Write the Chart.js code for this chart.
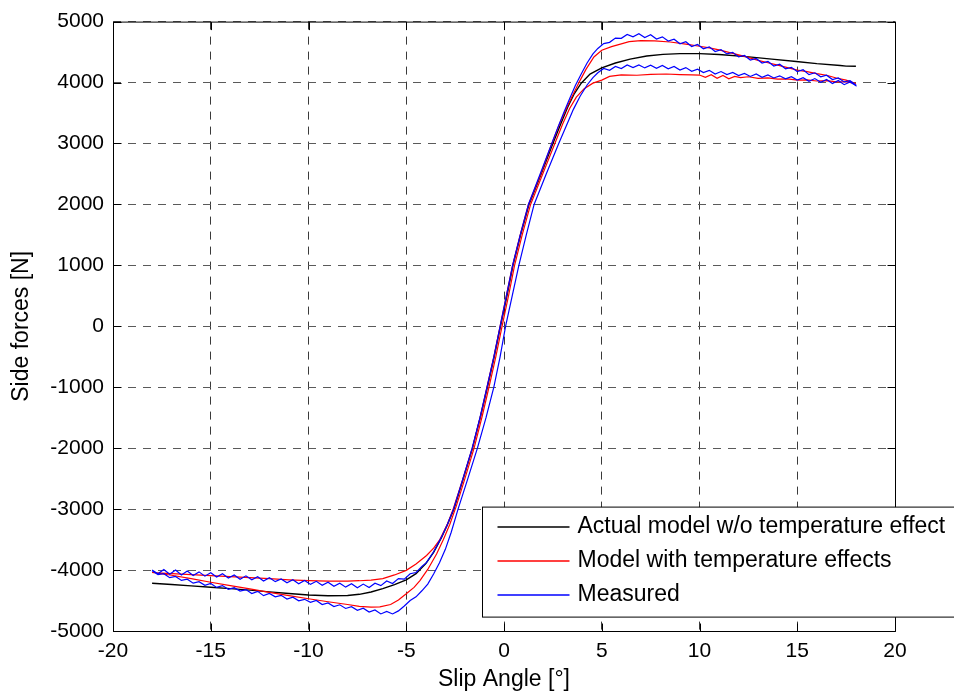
<!DOCTYPE html>
<html>
<head>
<meta charset="utf-8">
<script src="https://cdn.jsdelivr.net/npm/chart.js@4.4.1/dist/chart.umd.min.js"></script>
<style>
html,body{margin:0;padding:0;background:#fff;}
canvas{display:block;}
</style>
</head>
<body>
<canvas id="chart" width="954" height="697"></canvas>
<script>
// ---------- labels ----------
const seriesNames = ['Actual model w/o temperature effect', 'Model with temperature effects', 'Measured'];
const seriesColors = ['#000000', '#ff0000', '#0000ff'];
const xTickValues = [-20, -15, -10, -5, 0, 5, 10, 15, 20];
const yTickValues = [-5000, -4000, -3000, -2000, -1000, 0, 1000, 2000, 3000, 4000, 5000];
const xAxisTitle = 'Slip Angle [°]';
const yAxisTitle = 'Side forces [N]';

// ---------- Actual model w/o temperature effect ----------
const actualX = [-18,-17,-16,-15,-14,-13,-12,-11,-10,-9,-8,-7.4,-6.8,-6.2,-5.6,-5,-4.5,-4,-3.6,-3.2,
  -2.9,-2.56,-2.1,-1.61,-1.2,-0.85,-0.5,-0.18,0.15,0.46,0.85,1.28,1.9,2.5,2.9,3.25,3.6,3.95,4.4,5,
  5.7,6.45,7.3,8.13,9,10,11,12.4,13.7,14.95,16,17.2,17.5,18];
const actualY = [-4217,-4238,-4260,-4282,-4305,-4330,-4358,-4385,-4410,-4422,-4418,-4398,-4360,-4305,-4240,-4160,-4060,-3895,-3710,-3470,
  -3260,-3000,-2520,-2000,-1480,-1000,-500,0,500,1000,1500,2000,2500,3000,3320,3590,3820,3990,4140,4240,
  4320,4385,4435,4462,4475,4475,4460,4425,4385,4345,4310,4280,4270,4268];

// ---------- Model with temperature effects (rising sweep, then falling sweep) ----------
const modelRiseX = [-18,-17,-16,-15,-14,-13,-12,-11,-10,-9,-8,-7.4,-6.8,-6.35,-5.8,-5.4,-5,-4.6,-4.3,-3.9,
  -3.45,-3.1,-2.77,-2.45,-2.02,-1.53,-1.12,-0.77,-0.42,-0.1,0.23,0.54,0.93,1.36,1.98,2.6,3,3.35,3.7,4.1,
  4.55,5,5.4,6,6.8,7.5,8.3,9,9.6,10,10.3,10.6,10.9,11.2,11.5,11.8,12.1,12.5,13,13.5,
  14,14.5,15,15.5,16,16.5,17,17.5,18];
const modelRiseY = [-4040,-4085,-4140,-4200,-4255,-4310,-4365,-4420,-4471,-4520,-4565,-4597,-4608,-4605,-4565,-4490,-4390,-4285,-4173,-3990,
  -3737,-3500,-3248,-2960,-2520,-2000,-1480,-1000,-500,0,500,1000,1500,2000,2500,3000,3320,3570,3760,3900,
  3990,4040,4100,4125,4120,4135,4140,4130,4125,4123,4085,4130,4070,4115,4060,4100,4080,4095,4070,4075,
  4055,4060,4040,4045,4025,4030,4010,4010,3985];
const modelFallX = [18,17.5,17,16.5,16,15.5,15,14.5,14,13.5,13,12.4,12,11.5,11,10.5,10,9.3,8.5,7.7,
  7,6.4,6,5.5,5,4.6,4.2,3.9,3.6,3.25,2.85,2.4,1.88,1.25,0.83,0.44,0.12,-0.2,-0.52,-0.87,
  -1.22,-1.62,-2.12,-2.6,-2.9,-3.28,-3.6,-3.96,-4.5,-5,-5.6,-6.2,-6.8,-7.4,-8,-9,-10,-11,-12,-13,
  -14,-15,-16,-17,-18];
const modelFallY = [3985,4040,4075,4120,4145,4180,4205,4245,4285,4325,4365,4420,4455,4495,4535,4570,4595,4630,4665,4685,
  4688,4670,4635,4590,4530,4420,4220,4040,3850,3620,3330,2960,2500,2000,1500,1000,500,0,-500,-1000,
  -1500,-2000,-2520,-3000,-3250,-3500,-3640,-3760,-3900,-4005,-4080,-4140,-4165,-4175,-4180,-4182,-4173,-4160,-4142,-4125,
  -4107,-4091,-4075,-4057,-4040];

// ---------- Measured (rising sweep, then falling sweep) ----------
const measuredRiseX = [-18,-17.7,-17.4,-17.1,-16.8,-16.5,-16.2,-15.9,-15.6,-15.3,
  -15,-14.7,-14.4,-14.1,-13.8,-13.5,-13.2,-12.9,-12.6,-12.3,
  -12,-11.7,-11.4,-11.1,-10.8,-10.5,-10.2,-9.9,-9.6,-9.3,
  -9,-8.7,-8.4,-8.1,-7.8,-7.5,-7.2,-6.9,-6.6,-6.3,
  -6,-5.7,-5.4,-5.1,-4.8,-4.5,-4.2,-3.9,-3.6,-3.3,-3,-2.7,
  -2.35,-1.85,-1.36,-0.92,-0.52,-0.2,0.08,0.42,0.76,1.14,1.54,2.16,2.8,3.2,3.55,3.9,4.25,4.55,
  4.8,5.1,5.4,5.7,6,6.3,6.6,6.9,7.2,7.5,
  7.8,8.1,8.4,8.7,9,9.3,9.6,9.9,10.2,10.5,
  10.8,11.1,11.4,11.7,12,12.3,12.6,12.9,13.2,13.5,
  13.8,14.1,14.4,14.7,15,15.3,15.6,15.9,16.2,16.5,
  16.8,17.1,17.4,17.7,18];
const measuredRiseY = [-4010,-4075,-4060,-4125,-4105,-4170,-4150,-4215,-4190,-4250,
  -4220,-4285,-4255,-4315,-4290,-4345,-4320,-4385,-4350,-4420,
  -4385,-4440,-4415,-4475,-4445,-4505,-4480,-4530,-4500,-4565,
  -4540,-4600,-4570,-4630,-4600,-4660,-4625,-4690,-4655,-4720,
  -4680,-4720,-4670,-4590,-4500,-4440,-4340,-4230,-4064,-3880,-3660,-3380,
  -3000,-2500,-2000,-1500,-1000,-500,0,500,1000,1500,2000,2500,3000,3300,3560,3780,3960,4080,
  4160,4230,4200,4265,4230,4290,4245,4290,4240,4285,
  4235,4280,4225,4265,4205,4245,4185,4220,4165,4200,
  4140,4180,4130,4165,4115,4150,4100,4140,4085,4125,
  4075,4110,4060,4095,4040,4080,4020,4065,4005,4050,
  3985,4035,3965,4010,3950];
const measuredFallX = [18,17.7,17.4,17.1,16.8,16.5,16.2,15.9,15.6,15.3,
  15,14.7,14.4,14.1,13.8,13.5,13.2,12.9,12.6,12.3,
  12,11.7,11.4,11.1,10.8,10.5,10.2,9.9,9.6,9.3,
  9,8.7,8.4,8.1,7.8,7.5,7.2,6.9,6.6,6.3,
  6,5.7,5.4,5.1,4.8,4.55,4.25,3.95,3.65,3.35,3.05,2.75,2.42,
  1.85,1.25,0.83,0.44,0.12,-0.2,-0.52,-0.87,-1.23,-1.63,-2.12,-2.58,-2.92,-3.2,-3.6,-3.96,
  -4.2,-4.5,-4.8,-5.1,-5.4,-5.7,-6,-6.3,-6.6,-6.9,
  -7.2,-7.5,-7.8,-8.1,-8.4,-8.7,-9,-9.3,-9.6,-9.9,
  -10.2,-10.5,-10.8,-11.1,-11.4,-11.7,-12,-12.3,-12.6,-12.9,
  -13.2,-13.5,-13.8,-14.1,-14.4,-14.7,-15,-15.3,-15.6,-15.9,
  -16.2,-16.5,-16.8,-17.1,-17.4,-17.7,-18];
const measuredFallY = [3960,4030,4010,4075,4050,4120,4095,4160,4130,4210,
  4180,4250,4225,4300,4270,4345,4320,4395,4370,4445,
  4420,4495,4470,4540,4510,4585,4555,4625,4590,4670,
  4635,4710,4680,4750,4715,4785,4740,4800,4750,4790,
  4725,4730,4660,4640,4560,4470,4320,4140,3950,3730,3500,3260,2980,
  2500,2000,1500,1000,500,0,-500,-1000,-1500,-2000,-2520,-3000,-3270,-3460,-3700,-3874,
  -3940,-4040,-4060,-4150,-4140,-4220,-4180,-4255,-4215,-4285,
  -4230,-4290,-4225,-4280,-4215,-4265,-4200,-4250,-4185,-4235,
  -4170,-4225,-4160,-4210,-4145,-4190,-4125,-4180,-4110,-4160,
  -4095,-4150,-4080,-4130,-4060,-4115,-4045,-4100,-4030,-4090,
  -4015,-4080,-4000,-4070,-3990,-4060,-4000];

function toPoints(xs, ys) { return xs.map((x, i) => ({ x: x, y: ys[i] })); }

const FONT = "'Liberation Sans', Arial, Helvetica, sans-serif";

// Axis box and inward tick marks (MATLAB style)
const framePlugin = {
  id: 'frame',
  afterDatasetsDraw(chart) {
    const { ctx, chartArea: a, scales } = chart;
    const L = a.left + 0.5, R = a.right + 0.5, T = a.top + 0.5, B = a.bottom + 0.5;
    const len = 8;
    ctx.save();
    ctx.strokeStyle = '#000';
    ctx.lineWidth = 1;
    ctx.setLineDash([]);
    ctx.beginPath();
    ctx.rect(L, T, R - L, B - T);
    xTickValues.forEach(v => {
      const p = Math.round(scales.x.getPixelForValue(v)) + 0.5;
      ctx.moveTo(p, B); ctx.lineTo(p, B - len);
      ctx.moveTo(p, T); ctx.lineTo(p, T + len);
    });
    yTickValues.forEach(v => {
      const p = Math.round(scales.y.getPixelForValue(v)) + 0.5;
      ctx.moveTo(L, p); ctx.lineTo(L + len, p);
      ctx.moveTo(R, p); ctx.lineTo(R - len, p);
    });
    ctx.stroke();
    ctx.restore();
  }
};

// Boxed legend at lower right (extends past plot as in the reference)
const boxLegendPlugin = {
  id: 'boxLegend',
  afterDraw(chart) {
    const { ctx, chartArea: a } = chart;
    const bx = a.left + 369.5, by = a.top + 485.5, bw = 520, bh = 110;
    ctx.save();
    ctx.setLineDash([]);
    ctx.fillStyle = '#ffffff';
    ctx.fillRect(bx, by, bw, bh);
    ctx.strokeStyle = '#000000';
    ctx.lineWidth = 1;
    ctx.strokeRect(bx, by, bw, bh);
    ctx.font = '23px ' + FONT;
    ctx.textBaseline = 'middle';
    ctx.textAlign = 'left';
    seriesNames.forEach((name, i) => {
      const y = Math.round(by + 20 + i * 33.7);
      ctx.beginPath();
      ctx.strokeStyle = seriesColors[i];
      ctx.lineWidth = 1.6;
      ctx.moveTo(bx + 15, y);
      ctx.lineTo(bx + 87, y);
      ctx.stroke();
      ctx.fillStyle = '#000000';
      ctx.fillText(chart.data.datasets[i].label, bx + 95, y);
    });
    ctx.restore();
  }
};

new Chart(document.getElementById('chart'), {
  type: 'scatter',
  data: {
    datasets: [
      { label: seriesNames[0], data: toPoints(actualX, actualY), borderColor: seriesColors[0], backgroundColor: seriesColors[0],
        showLine: true, borderWidth: 1.4, pointRadius: 0, order: 3 },
      { label: seriesNames[1], data: toPoints(modelRiseX.concat(modelFallX), modelRiseY.concat(modelFallY)),
        borderColor: seriesColors[1], backgroundColor: seriesColors[1], showLine: true, borderWidth: 1.2, pointRadius: 0, order: 2 },
      { label: seriesNames[2], data: toPoints(measuredRiseX.concat(measuredFallX), measuredRiseY.concat(measuredFallY)),
        borderColor: seriesColors[2], backgroundColor: seriesColors[2], showLine: true, borderWidth: 1.2, pointRadius: 0, order: 1 }
    ]
  },
  options: {
    responsive: false,
    animation: false,
    devicePixelRatio: 1,
    layout: { padding: { top: 18, right: 59, left: 0, bottom: 0 } },
    plugins: { legend: { display: false }, tooltip: { enabled: false } },
    elements: { line: { tension: 0 }, point: { radius: 0 } },
    scales: {
      x: {
        type: 'linear', min: -20, max: 20,
        afterBuildTicks: s => { s.ticks = xTickValues.map(v => ({ value: v })); },
        afterFit: s => { s.height = 66; },
        grid: { color: '#3a3a3a', lineWidth: 1, drawTicks: false },
        border: { display: false, dash: [8, 7] },
        ticks: { padding: 8, color: '#000', font: { family: FONT, size: 21 }, maxRotation: 0, autoSkip: false,
                 callback: v => String(v) },
        title: { display: true, text: xAxisTitle, color: '#000', font: { family: FONT, size: 23 }, padding: { top: 0, bottom: 4 } }
      },
      y: {
        type: 'linear', min: -5000, max: 5000,
        afterBuildTicks: s => { s.ticks = yTickValues.map(v => ({ value: v })); },
        afterFit: s => { s.width = 113; },
        grid: { color: '#5a5a5a', lineWidth: 1, drawTicks: false },
        border: { display: false, dash: [8, 7] },
        ticks: { padding: 9, color: '#000', font: { family: FONT, size: 21 }, autoSkip: false,
                 callback: v => String(v) },
        title: { display: true, text: yAxisTitle, color: '#000', font: { family: FONT, size: 23 }, padding: { top: 8, bottom: 0 } }
      }
    }
  },
  plugins: [framePlugin, boxLegendPlugin]
});
</script>
</body>
</html>
